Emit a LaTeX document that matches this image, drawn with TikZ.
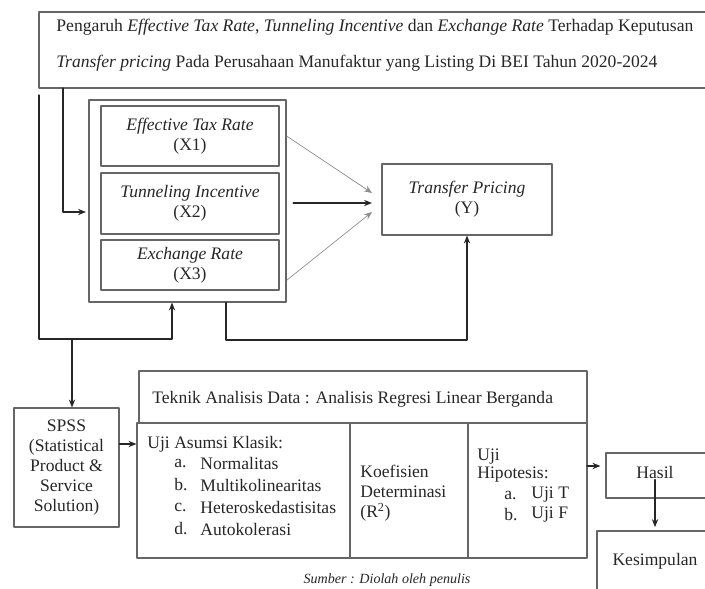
\documentclass[tikz,border=0pt]{standalone}
\usepackage{fontspec}
\setmainfont{Liberation Serif}
\usetikzlibrary{arrows.meta}
\begin{document}
\begin{tikzpicture}[x=0.03cm,y=-0.03cm,line cap=round,line join=round,>={Stealth[length=2.4mm,width=1.9mm]},
  every node/.style={inner sep=1pt,text=black!85,font=\fontsize{15}{17}\selectfont},
  box/.style={draw=black!60,line width=0.9pt,inner sep=0pt},
  wh/.style 2 args={minimum width=#1*\u cm,minimum height=#2*\u cm},
  link/.style={->,line width=1.1pt,black!85},
  thin link/.style={->,line width=0.6pt,black!45}]
  \def\u{0.03}
  \useasboundingbox (0,0) rectangle (705,588);
  % judul
  \node[box,wh={667}{76}] (title) at (372.5,50) {};
  \node[anchor=west,font=\fontsize{15.05}{17}\selectfont] (judul1) at (55,27) {Pengaruh \textit{Effective Tax Rate}, \textit{Tunneling Incentive} dan \textit{Exchange Rate} Terhadap Keputusan};
  \node[anchor=west] (judul2) at (55,63) {\textit{Transfer pricing} Pada Perusahaan Manufaktur yang Listing Di BEI Tahun 2020-2024};
  % variabel
  \node[box,wh={197}{202}] (xbox) at (187.5,201) {};
  \node[box,wh={178}{60},align=center] (x1) at (190,136) {\textit{Effective Tax Rate}\\(X1)};
  \node[box,wh={178}{61},align=center] (x2) at (190,203.5) {\textit{Tunneling Incentive}\\(X2)};
  \node[box,wh={178}{50},align=center] (x3) at (190,265) {\textit{Exchange Rate}\\(X3)};
  \node[box,wh={170}{71},align=center] (yvar) at (467,199.5) {\textit{Transfer Pricing}\\(Y)};
  \coordinate (ujung1) at (372,193);
  \coordinate (ujung2) at (372,203);
  \coordinate (ujung3) at (372,212);
  \coordinate (dari3) at (287,280);
  \draw[thin link] (xbox.east |- x1.east) -- (ujung1);
  \draw[link] ([xshift=2mm]xbox.east |- ujung2) -- (ujung2);
  \draw[thin link] (dari3) -- (ujung3);
  % umpan balik
  \coordinate (umpan) at (63,88);
  \coordinate (xmasuk) at (86,212);
  \draw[link] (umpan) |- (xmasuk);
  \coordinate (kiri) at (39,95);
  \coordinate (balik) at (172,339);
  \draw[link] (kiri) |- (balik) -- (balik |- xbox.south);
  \coordinate (bawah) at (226,340);
  \draw[link] (bawah |- xbox.south) -- (bawah) -| (yvar.south);
  % analisis
  \node[box,wh={105}{119},align=center] (spss) at (66.5,467.5) {SPSS\\(Statistical\\Product \&\\Service\\Solution)};
  \coordinate (turun) at (72,339);
  \draw[link] (turun) -- (turun |- spss.north);
  \node[box,wh={448}{52}] (teknik) at (363,397) {};
  \node[anchor=west] (teknikteks) at (151,399) {Teknik Analisis Data : Analisis Regresi Linear Berganda};
  \node[box,wh={213}{135}] (uji1) at (243.5,490.5) {};
  \node[box,wh={118}{135}] (uji2) at (409,490.5) {};
  \node[box,wh={119}{135}] (uji3) at (527.5,490.5) {};
  \node[anchor=west] (asumsi) at (146,444) {Uji Asumsi Klasik:};
  \foreach \huruf/\teks [count=\i] in {a./Normalitas,b./Multikolinearitas,c./Heteroskedastisitas,d./Autokolerasi} {
    \node[anchor=west] (huruf\i) at (173,{441+22*\i}) {\huruf};
    \node[anchor=west] (butir\i) at (199,{441+22*\i}) {\teks};
  }
  \node[anchor=west,align=left] (koef) at (359,493.5) {Koefisien\\Determinasi\\(R\textsuperscript{2})};
  \node[anchor=west] (uji) at (476,457) {Uji};
  \node[anchor=west] (hipotesis) at (476,475) {Hipotesis:};
  \foreach \huruf/\teks [count=\i] in {a./Uji T,b./Uji F} {
    \node[anchor=west] (hhuruf\i) at (503,{475+20*\i}) {\huruf};
    \node[anchor=west] (hbutir\i) at (530,{475+20*\i}) {\teks};
  }
  \draw[link] (spss.east |- asumsi) -- (uji1.west |- asumsi);
  % hasil
  \node[box,wh={100}{45}] (hasil) at (656,475.5) {};
  \node (hasilteks) at (655,472) {Hasil};
  \node[box,wh={116}{60}] (kesimpulan) at (655,561) {Kesimpulan};
  \coordinate (keluar) at (587,466);
  \draw[link,shorten >=1.5mm] (keluar) -- (hasil.west |- keluar);
  \draw[link,shorten >=1mm] (hasilteks.south) -- (hasilteks.south |- kesimpulan.north);
  \node[font=\itshape\fontsize{12}{14}\selectfont] (sumber) at (387,580) {Sumber : Diolah oleh penulis};
\end{tikzpicture}
\end{document}
